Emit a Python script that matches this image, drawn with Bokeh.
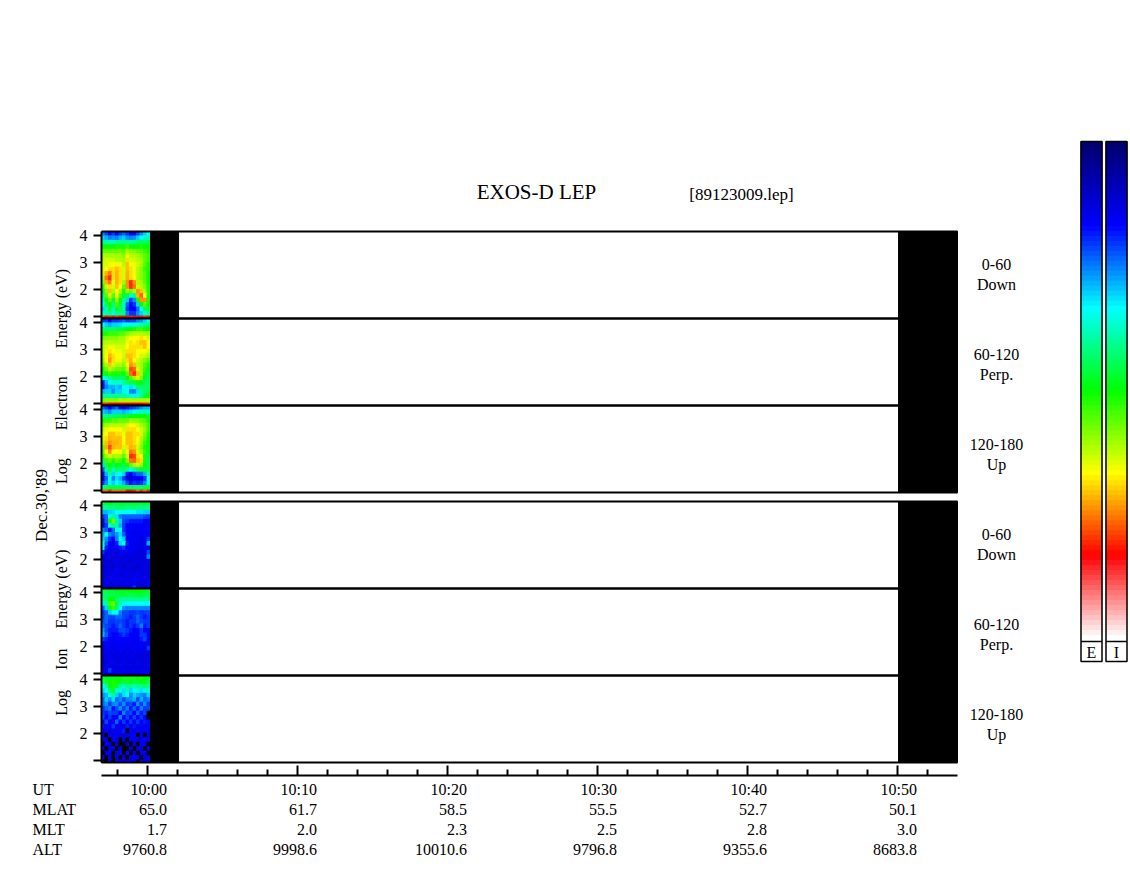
from bokeh.plotting import figure
from bokeh.models import Range1d
from bokeh.core.properties import value
from bokeh.embed import file_html
from bokeh.resources import INLINE
import numpy as np

# ---------- data ----------
title = "EXOS-D LEP"
file_tag = "[89123009.lep]"
date_label = "Dec.30,'89"
electron_label = "Log  Electron  Energy (eV)"
ion_label = "Log  Ion  Energy (eV)"

ut_minutes = [0, 10, 20, 30, 40, 50]
minor_minutes = [-2, 2, 4, 6, 8, 12, 14, 16, 18, 22, 24, 26, 28, 32, 34, 36, 38, 42, 44, 46, 48, 52]
row_names = ["UT", "MLAT", "MLT", "ALT"]
ut_labels = ["10:00", "10:10", "10:20", "10:30", "10:40", "10:50"]
mlat = ["65.0", "61.7", "58.5", "55.5", "52.7", "50.1"]
mlt = ["1.7", "2.0", "2.3", "2.5", "2.8", "3.0"]
alt = ["9760.8", "9998.6", "10010.6", "9796.8", "9355.6", "8683.8"]
energy_ticks = [4, 3, 2, 1]
energy_tick_labels = ["4", "3", "2"]
pitch_top = ["0-60", "60-120", "120-180"]
pitch_bot = ["Down", "Perp.", "Up"]

data_start, data_end = -3.067, 0.2      # minutes from 10:00, data window
gap1_end = 2.07                         # black until here
gap2_start, plot_end = 50.07, 54.0      # trailing black block

# colour level: 0 navy, 10 blue, 20 cyan, 30 green, 40 yellow, 50 red, 60 white; -1 = no data
e_down = [
 [15,13,10,12,10,12,14,12,10,10,13,16,18,20],
 [18,17,15,16,15,17,18,16,15,16,18,20,22,23],
 [24,24,23,23,24,24,25,24,24,24,26,26,26,27],
 [30,30,30,30,31,31,31,32,30,30,30,31,30,30],
 [33,33,33,34,34,34,33,36,35,35,34,33,32,31],
 [36,36,36,36,36,36,35,39,37,37,36,35,33,32],
 [37,38,38,38,37,37,36,41,38,38,37,36,34,32],
 [38,38,39,40,39,39,37,42,39,39,38,36,33,31],
 [38,40,41,41,42,41,38,42,41,39,37,35,32,31],
 [38,43,45,41,43,41,38,43,41,39,37,35,33,30],
 [37,45,48,41,43,41,38,43,41,40,37,35,33,30],
 [35,43,45,39,43,41,36,44,48,44,37,36,34,30],
 [32,38,41,38,42,40,33,44,48,45,38,37,35,31],
 [28,35,42,36,40,36,31,36,34,36,44,42,37,31],
 [25,33,38,33,39,33,28,28,22,25,43,46,40,31],
 [22,30,34,28,36,30,25,18,12,16,30,44,44,31],
 [20,27,30,25,33,28,23,14,10,12,18,30,34,30],
 [18,23,28,22,30,26,24,12,9,10,14,20,27,27],
 [22,23,25,22,24,24,25,15,12,12,16,18,22,24],
 [47,50,48,50,48,50,50,50,48,50,50,50,48,50],
]
e_perp = [
 [12,12,10,12,12,13,14,12,13,13,15,16,18,20],
 [20,18,17,18,18,19,20,20,21,21,22,23,24,25],
 [25,26,26,26,27,27,28,29,30,31,32,32,31,30],
 [31,31,32,32,32,33,33,35,36,37,37,37,36,36],
 [34,35,35,35,35,36,36,38,40,40,40,41,40,38],
 [36,37,37,37,37,37,37,39,41,40,41,42,42,40],
 [37,38,39,39,38,38,38,40,41,41,41,41,42,40],
 [37,39,41,40,39,39,38,41,41,41,40,40,40,38],
 [36,40,43,41,40,40,38,42,42,41,40,38,38,36],
 [35,40,44,41,39,39,37,41,43,40,38,37,35,33],
 [33,37,42,38,37,37,35,39,44,42,37,36,33,31],
 [31,34,37,35,34,34,33,37,47,46,38,36,32,29],
 [28,30,32,31,31,31,29,33,45,48,42,37,31,28],
 [20,22,24,26,26,26,26,29,33,36,38,35,29,26],
 [11,17,20,22,22,21,24,26,27,28,30,29,27,26],
 [11,15,17,17,18,17,20,20,19,22,26,26,26,26],
 [17,18,18,16,18,18,21,20,15,15,19,24,26,27],
 [24,24,24,24,24,24,24,23,22,22,22,24,28,30],
 [34,35,35,35,35,36,36,36,36,36,36,36,36,37],
 [48,48,50,50,50,50,50,50,50,50,50,50,49,48],
]
e_up = [
 [14,12,10,12,14,10,9,11,12,13,14,16,17,17],
 [18,17,16,18,18,18,17,18,19,20,21,22,23,22],
 [24,25,26,26,26,27,28,28,29,30,30,30,30,28],
 [31,32,32,33,33,34,34,34,36,35,35,34,33,31],
 [34,36,37,37,37,37,37,38,40,39,38,36,35,32],
 [37,39,40,40,40,40,38,41,41,41,40,38,36,32],
 [38,40,42,42,41,41,39,42,42,41,41,38,35,31],
 [38,41,43,42,42,42,40,42,42,41,40,37,34,30],
 [36,42,44,43,43,42,39,42,42,41,39,36,32,30],
 [34,43,47,43,42,42,38,41,43,42,38,35,31,30],
 [33,40,44,40,40,39,36,40,45,44,38,36,32,29],
 [31,36,38,36,37,36,33,38,48,47,41,40,31,28],
 [26,32,33,31,34,32,30,35,45,46,42,41,31,27],
 [19,27,30,27,30,28,28,31,34,36,38,36,30,27],
 [14,24,27,23,26,24,26,24,20,24,26,28,28,27],
 [10,17,24,18,22,20,18,11,8,12,14,14,17,24],
 [9,14,20,15,19,17,13,8,7,10,10,10,12,20],
 [12,16,21,18,20,19,17,13,10,12,11,12,15,21],
 [24,26,27,27,27,27,27,27,26,26,26,26,27,27],
 [46,46,48,46,46,46,46,50,50,48,46,48,46,48],
]
i_down = [
 [26,27,29,28,27,28,28,27,28,28,28,27,28,27],
 [24,24,25,25,26,26,26,25,25,26,25,25,25,24],
 [17,17,18,19,20,20,20,20,20,20,19,19,18,18],
 [12,14,22,24,19,15,14,14,14,14,14,14,13,12],
 [9,14,30,35,25,18,13,12,11,11,11,11,10,10],
 [9,12,22,24,24,17,12,10,10,10,10,10,9,10],
 [15,14,10,14,21,20,12,10,10,9,9,10,9,10],
 [17,20,15,14,16,19,14,10,9,9,9,9,9,9],
 [18,16,12,10,15,21,18,10,9,9,9,8,9,12],
 [22,14,10,9,11,19,20,11,9,9,9,8,9,17],
 [20,11,9,9,9,11,12,10,9,9,8,8,9,8],
 [12,9,8,8,8,9,9,9,9,8,8,8,8,13],
 [8,8,8,8,8,8,8,8,8,8,8,8,8,15],
 [8,8,7,8,8,8,8,8,7,8,8,8,7,9],
 [7,8,8,7,8,8,7,8,8,8,7,8,8,8],
 [8,7,8,8,9,8,8,8,8,7,8,8,8,8],
 [8,8,8,9,8,8,8,9,8,8,9,8,8,8],
 [8,8,9,8,8,9,8,8,8,9,8,8,9,8],
 [8,9,8,8,9,8,8,9,8,10,8,8,8,9],
 [7,8,8,8,8,8,9,8,10,12,8,8,8,8],
]
i_perp = [
 [26,27,28,28,29,29,29,29,30,30,30,30,29,28],
 [26,26,27,27,27,28,28,27,27,28,28,28,27,27],
 [24,26,30,29,26,25,24,25,24,24,24,25,24,24],
 [19,24,32,34,27,23,20,20,20,20,20,20,20,20],
 [14,18,29,32,26,20,16,15,15,15,15,15,15,15],
 [12,14,18,20,20,15,13,13,12,12,13,12,12,13],
 [12,14,13,13,14,14,13,12,11,12,14,12,11,12],
 [13,14,12,12,13,13,12,11,12,12,14,13,12,12],
 [14,13,12,11,12,14,12,11,12,11,12,15,11,12],
 [16,13,11,11,11,13,13,12,11,10,10,12,10,10],
 [17,14,11,10,10,11,12,11,10,10,10,12,12,10],
 [12,11,10,10,10,10,10,10,10,9,9,11,13,9],
 [10,10,9,9,9,10,9,10,9,9,9,9,9,9],
 [9,9,9,8,9,9,9,8,9,9,9,9,8,12],
 [8,9,8,9,8,9,8,9,8,9,8,9,8,8],
 [8,8,9,8,8,8,8,8,9,8,8,8,8,8],
 [8,8,8,9,8,8,9,8,8,8,9,8,8,8],
 [8,9,8,8,8,9,8,8,9,8,8,8,8,9],
 [8,8,12,9,8,8,9,8,8,9,8,9,8,8],
 [7,8,8,8,8,9,8,8,8,8,8,8,9,8],
]
i_up = [
 [27,29,29,30,30,30,31,31,31,31,30,31,30,29],
 [25,28,30,31,30,29,28,28,29,28,28,30,29,27],
 [20,24,29,31,28,24,22,25,24,23,24,24,26,24],
 [18,20,26,28,22,21,19,23,18,20,21,19,21,22],
 [16,17,21,24,18,16,19,20,15,18,17,16,15,18],
 [14,18,16,19,14,16,13,15,16,17,13,17,14,15],
 [14,16,12,15,16,13,16,12,13,11,16,12,16,12],
 [12,14,15,11,13,16,12,15,11,14,11,15,12,13],
 [12,11,13,12,12,10,15,12,13,10,14,11,13,-1],
 [13,10,12,9,10,15,10,13,10,13,10,12,10,-1],
 [10,13,9,10,14,9,12,10,12,9,12,9,11,10],
 [11,9,10,12,8,10,8,11,9,11,8,10,9,9],
 [9,10,8,9,9,8,11,-1,9,8,10,8,9,10],
 [8,-1,9,8,10,9,8,9,8,10,-1,9,-1,8],
 [9,8,-1,10,8,-1,8,-1,10,8,9,8,10,9],
 [-1,9,8,-1,8,-1,-1,8,-1,8,-1,9,8,-1],
 [9,-1,8,8,-1,8,-1,-1,8,-1,8,8,-1,8],
 [-1,8,9,-1,8,9,-1,10,-1,8,-1,8,9,-1],
 [8,-1,8,-1,10,-1,8,-1,8,10,9,-1,8,8],
 [-1,-1,8,-1,10,8,9,8,10,8,-1,8,9,8],
]
panels = [e_down, e_perp, e_up, i_down, i_perp, i_up]

# ---------- layout (page pixels) ----------
W, H = 1130, 870
PAGE_L, PAGE_T = 0, 0
X0, PX_PER_MIN = 147, 15
DECADE = 27
panel_tops = [231, 318, 405, 501, 588, 675]
label_tops = [264, 354, 444, 534, 624, 714]
PANEL_H = 87
FONT = value("Liberation Serif")
FS = "16px"
NB = "\u00a0"

p = figure(width=W, height=H, output_backend="svg", toolbar_location=None,
           x_axis_type=None, y_axis_type=None, min_border=0,
           outline_line_color=None, background_fill_color="white",
           x_range=Range1d((PAGE_L - X0) / PX_PER_MIN, (PAGE_L + W - X0) / PX_PER_MIN),
           y_range=Range1d(PAGE_T + H, PAGE_T))
p.grid.visible = False
p.extra_x_ranges["page"] = Range1d(PAGE_L, PAGE_L + W)

# palette
anchors = [(0, 0, 110), (0, 0, 255), (0, 255, 255), (0, 255, 0), (255, 255, 0), (255, 0, 0), (255, 255, 255)]
N = 100
palette = []
for t in np.linspace(0, 6, N):
    i = min(int(t), 5); f = t - i
    c = [round(anchors[i][k] + (anchors[i + 1][k] - anchors[i][k]) * f) for k in range(3)]
    palette.append("#%02x%02x%02x" % tuple(c))

def text(xs, ys, t, align="center", angle=0.0, size=FS):
    p.text(x=xs, y=ys, text=t, text_font=FONT, text_font_size=size, text_align=align,
           text_baseline="middle", text_color="black", angle=angle, x_range_name="page")

# panels
for idx, (top, grid) in enumerate(zip(panel_tops, panels)):
    name = f"panel{idx}"
    y4 = top + 4
    to_e = lambda px: 4 - (px - y4) / DECADE
    p.extra_y_ranges[name] = Range1d(to_e(PAGE_T + H), to_e(PAGE_T))
    e_top, e_bot = to_e(top), to_e(top + PANEL_H)
    arr = np.array(grid, dtype=float)
    nrow, ncol = arr.shape
    dt = (data_end - data_start) / ncol
    # the lowest row is a thin band in the original
    weights = np.array([1.0] * (nrow - 1) + [0.55])
    edges = e_top - np.concatenate([[0], np.cumsum(weights)]) / weights.sum() * (e_top - e_bot)
    xl, xr, yb, yt, cols = [], [], [], [], []
    for r in range(nrow):
        for c in range(ncol):
            xl.append(data_start + c * dt); xr.append(data_start + (c + 1) * dt)
            yt.append(edges[r]); yb.append(edges[r + 1])
            v = arr[r, c]
            cols.append("#000000" if v < 0 else palette[min(N - 1, int(v / 60 * N))])
    p.quad(left=xl, right=xr, bottom=yb, top=yt, fill_color=cols, line_color=cols, line_width=1,
           y_range_name=name)
    # black blocks
    p.quad(left=[data_end, gap2_start], right=[gap1_end, plot_end], bottom=[e_bot] * 2, top=[e_top] * 2,
           fill_color="black", line_color="black", y_range_name=name)
    # frame lines
    p.segment(x0=[data_start, data_start], x1=[plot_end, plot_end], y0=[e_top, e_bot], y1=[e_top, e_bot],
              line_color="black", line_width=2, y_range_name=name)
    p.segment(x0=[data_start], x1=[data_start], y0=[e_top], y1=[e_bot],
              line_color="black", line_width=2, y_range_name=name)
    # energy ticks
    tick_len = 8 / PX_PER_MIN
    p.segment(x0=[data_start - tick_len] * 4, x1=[data_start] * 4, y0=energy_ticks, y1=energy_ticks,
              line_color="black", line_width=2, y_range_name=name)
    p.text(x=[data_start - 14 / PX_PER_MIN] * 3, y=[4, 3, 2], text=energy_tick_labels, text_font=FONT,
           text_font_size=FS, text_align="right", text_baseline="middle", y_range_name=name)
    # pitch-angle labels
    k = idx % 3
    text([996], [label_tops[idx]], [pitch_top[k]])
    text([996], [label_tops[idx] + 20], [pitch_bot[k]])

# titles
text([536], [191], [title], size="21px")
text([741], [194], [file_tag], size="17px")
text([61], [376], [electron_label.replace("  ", NB * 7)], angle=np.pi / 2)
text([61], [632], [ion_label.replace("  ", NB * 5)], angle=np.pi / 2)
text([41], [505], [date_label], angle=np.pi / 2, size="17px")

# time axis
p.segment(x0=[data_start], x1=[plot_end], y0=[775], y1=[775], line_color="black", line_width=2)
p.segment(x0=ut_minutes, x1=ut_minutes, y0=[765] * 6, y1=[775] * 6, line_color="black", line_width=2)
p.segment(x0=minor_minutes, x1=minor_minutes, y0=[769] * len(minor_minutes), y1=[775] * len(minor_minutes),
          line_color="black", line_width=2)

for row_y, nm, vals in zip([789, 809, 829, 849], row_names, [ut_labels, mlat, mlt, alt]):
    text([32], [row_y], [nm], align="left")
    label_x = [m + 19.5 / PX_PER_MIN for m in ut_minutes]
    p.text(x=label_x, y=[row_y] * 6, text=vals, text_font=FONT, text_font_size=FS, text_align="right",
           text_baseline="middle")

# colour bars
for x0, x1, tag in [(1080.5, 1101.5, "E"), (1105.5, 1126.5, "I")]:
    yy = np.linspace(141, 640, N + 1)
    p.quad(left=[x0] * N, right=[x1] * N, top=yy[:-1].tolist(), bottom=yy[1:].tolist(),
           fill_color=palette, line_color=palette, line_width=1, x_range_name="page")
    p.quad(left=[x0], right=[x1], top=[141], bottom=[661], fill_color=None, line_color="black", line_width=1.5,
           x_range_name="page")
    p.segment(x0=[x0], x1=[x1], y0=[641], y1=[641], line_color="black", line_width=1.5, x_range_name="page")
    text([(x0 + x1) / 2], [652], [tag])

open("out.html", "w").write(file_html(p, INLINE))
